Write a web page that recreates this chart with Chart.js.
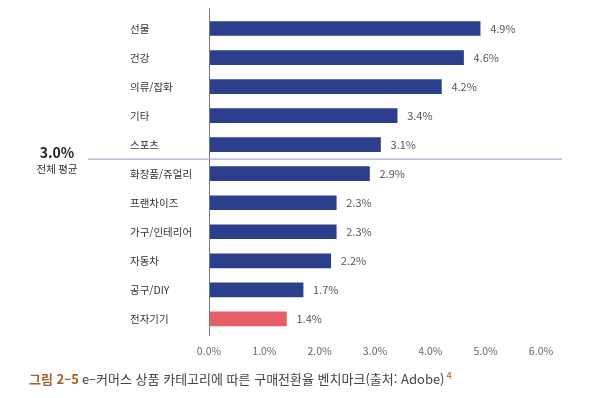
<!DOCTYPE html>
<html lang="ko">
<head>
<meta charset="utf-8">
<script src="https://cdn.jsdelivr.net/npm/chart.js@4/dist/chart.umd.min.js"></script>
<style>
  html, body { margin: 0; padding: 0; background: #fff; }
  #wrap { position: relative; width: 613px; height: 398px; }
  #chart { position: absolute; left: 0; top: 0; }
  #caption {
    position: absolute; left: 29px; top: 369px;
    font-family: 'Noto Sans CJK KR', 'Noto Sans', sans-serif;
    font-size: 13px; color: #444; white-space: nowrap;
  }
  #caption b { color: #a6602f; font-weight: 700; margin-right: 3px; }
  #caption sup { color: #c9823f; font-size: 9px; font-weight: 700; margin-left: 2px; }
</style>
</head>
<body>
<div id="wrap">
  <canvas id="chart" width="613" height="376"></canvas>
  <div id="caption"><b>그림 2–5</b>e–커머스 상품 카테고리에 따른 구매전환율 벤치마크(출처: Adobe)<sup>4</sup></div>
</div>
<script>
const categories = ["선물", "건강", "의류/잡화", "기타", "스포츠", "화장품/쥬얼리", "프랜차이즈", "가구/인테리어", "자동차", "공구/DIY", "전자기기"];
const rates = [4.9, 4.6, 4.2, 3.4, 3.1, 2.9, 2.3, 2.3, 2.2, 1.7, 1.4];
const average = 3.0;
const averageLabel = "전체 평균";
const highlight = "전자기기";

const FONT = "'Noto Sans CJK KR', 'Noto Sans', sans-serif";
Chart.defaults.font.family = FONT;

// value labels at the end of each bar
const valueLabels = {
  id: "valueLabels",
  afterDatasetsDraw(chart) {
    const ctx = chart.ctx;
    const meta = chart.getDatasetMeta(0);
    ctx.save();
    ctx.font = "11px " + FONT;
    ctx.fillStyle = "#555";
    ctx.textBaseline = "middle";
    meta.data.forEach((bar, i) => {
      ctx.fillText(rates[i].toFixed(1) + "%", bar.x + 10, bar.y);
    });
    ctx.restore();
  },
};

// zero axis line, a bit longer than the plot area
const zeroAxis = {
  id: "zeroAxis",
  afterDatasetsDraw(chart) {
    const ctx = chart.ctx;
    const area = chart.chartArea;
    const x = Math.round(chart.scales.x.getPixelForValue(0)) + 0.5;
    ctx.save();
    ctx.strokeStyle = "#777";
    ctx.lineWidth = 1;
    ctx.beginPath();
    ctx.moveTo(x, area.top - 6);
    ctx.lineTo(x, area.bottom + 2.5);
    ctx.stroke();
    ctx.restore();
  },
};

// average divider line + its label on the left
const averageLine = {
  id: "averageLine",
  afterDatasetsDraw(chart) {
    const ctx = chart.ctx;
    const y = chart.scales.y;
    const area = chart.chartArea;
    let idx = rates.findIndex((v) => v < average);
    const py = (y.getPixelForValue(idx - 1) + y.getPixelForValue(idx)) / 2;
    ctx.save();
    ctx.strokeStyle = "#a4abcf";
    ctx.lineWidth = 1.3;
    ctx.beginPath();
    ctx.moveTo(area.left - 121, py);
    ctx.lineTo(area.right + 21, py);
    ctx.stroke();
    ctx.textAlign = "center";
    ctx.textBaseline = "middle";
    ctx.fillStyle = "#222";
    ctx.font = "bold 14px " + FONT;
    ctx.fillText(average.toFixed(1) + "%", 57, py - 6);
    ctx.font = "10.5px " + FONT;
    ctx.fillStyle = "#333";
    ctx.fillText(averageLabel, 57, py + 10);
    ctx.restore();
  },
};

const chart = new Chart(document.getElementById("chart").getContext("2d"), {
  type: "bar",
  data: {
    labels: categories,
    datasets: [
      {
        data: rates,
        backgroundColor: categories.map((c) => (c === highlight ? "#e65f67" : "#2b3f8c")),
        borderWidth: 0,
        barThickness: 14,
      },
    ],
  },
  options: {
    indexAxis: "y",
    responsive: false,
    animation: false,
    layout: { padding: { left: 130, right: 72, top: 14, bottom: 8 } },
    plugins: { legend: { display: false }, tooltip: { enabled: false } },
    scales: {
      x: {
        min: 0,
        max: 6,
        grid: { display: false, drawTicks: false },
        border: { display: false },
        ticks: {
          stepSize: 1,
          padding: 11,
          color: "#666",
          font: { size: 10.5 },
          callback: (v) => Number(v).toFixed(1) + "%",
        },
      },
      y: {
        grid: { display: false, drawTicks: false },
        border: { display: false },
        afterFit: (scale) => { scale.width = 79; },
        ticks: {
          crossAlign: "far",
          color: "#333",
          font: { size: 10.5 },
        },
      },
    },
  },
  plugins: [valueLabels, zeroAxis, averageLine],
});
</script>
</body>
</html>
